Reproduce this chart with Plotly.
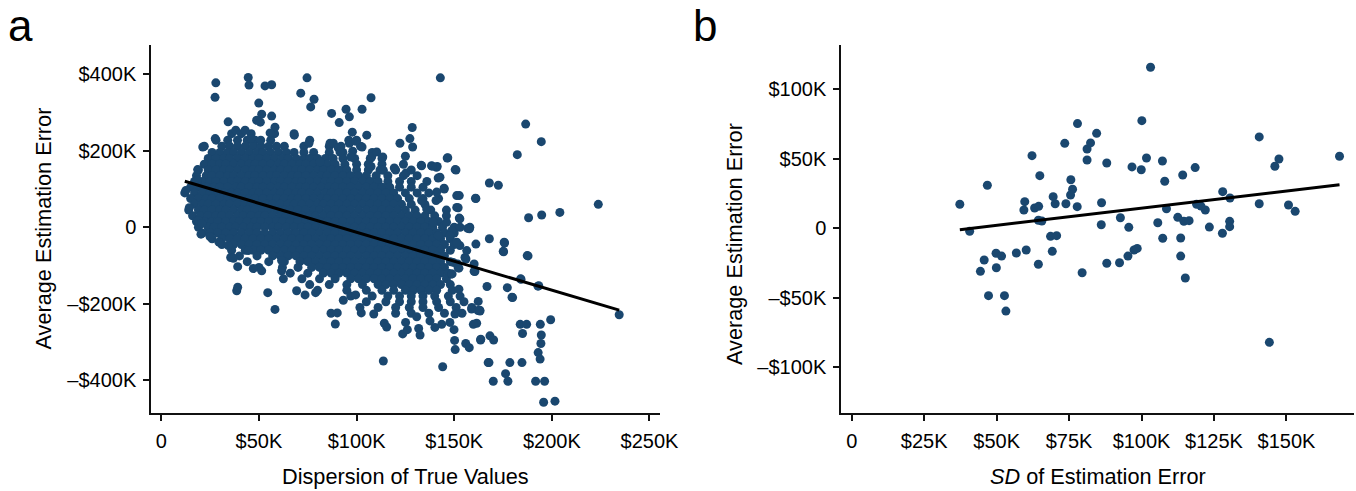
import plotly.graph_objects as go

NAVY = "#1a476f"

# ---------------- Panel a: Dispersion of True Values vs Average Estimation Error (values in $K)
# dense core, read row by row (y level in $K, x positions in $K)
core_row_y = [245, 228, 212, 196, 180, 165, 150, 135, 120, 105, 90, 75, 60, 45, 30, 15, 0,
              -15, -30, -45, -60, -75, -90, -105, -120, -135, -150, -165, -180, -195, -210, -225]
core_row_x = [
    [36, 41, 46, 58, 68],
    [28, 34, 39, 44, 48, 56, 76, 96, 100],
    [22, 31, 35, 39, 43, 47, 51, 55, 59, 63, 73, 86, 92, 102],
    [26, 30, 34, 37, 41, 45, 49, 52, 56, 60, 64, 68, 73, 78, 86, 93, 108],
    [24, 28, 32, 35, 39, 43, 47, 50, 54, 58, 62, 65, 69, 73, 76, 80, 84, 88, 93, 99, 107, 113],
    [22, 26, 30, 33, 37, 41, 45, 48, 52, 56, 60, 63, 67, 71, 74, 78, 82, 85, 89, 94, 100, 106, 113, 124],
    [19, 24, 28, 32, 35, 39, 43, 47, 50, 54, 58, 61, 65, 69, 72, 76, 80, 83, 87, 91, 95, 100, 106, 112, 120, 128],
    [18, 23, 26, 30, 34, 37, 41, 45, 48, 52, 56, 59, 63, 67, 70, 74, 78, 82, 85, 89, 93, 97, 101, 105, 110, 116, 124, 131],
    [17, 21, 25, 28, 32, 36, 39, 43, 47, 50, 54, 58, 61, 65, 69, 72, 76, 80, 84, 87, 91, 95, 99, 103, 107, 111, 116, 122, 128, 136],
    [15, 19, 23, 27, 30, 34, 38, 41, 45, 49, 52, 56, 60, 63, 67, 71, 74, 78, 82, 86, 89, 93, 97, 101, 105, 109, 113, 117, 122, 128, 134],
    [12, 17, 21, 25, 28, 32, 36, 39, 43, 47, 50, 54, 58, 61, 65, 69, 72, 76, 80, 84, 87, 91, 95, 99, 103, 107, 111, 115, 119, 125, 131, 137],
    [15, 19, 23, 26, 30, 34, 37, 41, 45, 48, 52, 56, 59, 63, 67, 70, 74, 78, 82, 85, 89, 93, 97, 101, 105, 109, 113, 117, 121, 127, 134, 142],
    [17, 21, 24, 28, 32, 35, 39, 43, 46, 50, 54, 57, 61, 65, 68, 72, 76, 80, 83, 87, 91, 95, 99, 103, 107, 111, 115, 119, 123, 128, 135],
    [14, 19, 22, 26, 30, 33, 37, 41, 44, 48, 52, 55, 59, 63, 66, 70, 74, 78, 81, 85, 89, 93, 97, 101, 105, 109, 113, 117, 121, 125, 130, 138, 146],
    [16, 20, 24, 28, 31, 35, 39, 42, 46, 50, 53, 57, 61, 64, 68, 72, 76, 79, 83, 87, 91, 95, 99, 103, 107, 111, 115, 119, 123, 127, 131, 135, 140, 146],
    [18, 22, 26, 29, 33, 37, 40, 44, 48, 51, 55, 59, 62, 66, 70, 74, 77, 81, 85, 89, 93, 97, 101, 105, 109, 113, 117, 121, 125, 129, 133, 137, 142],
    [19, 24, 27, 31, 35, 38, 42, 46, 49, 53, 57, 60, 64, 68, 72, 75, 79, 83, 87, 91, 95, 99, 103, 107, 111, 115, 119, 123, 127, 131, 135, 139, 144, 150, 153, 158],
    [21, 25, 29, 33, 37, 41, 45, 49, 53, 57, 61, 65, 69, 73, 77, 81, 85, 89, 93, 97, 101, 105, 109, 113, 117, 121, 125, 129, 133, 137, 141, 145, 150],
    [26, 31, 35, 39, 43, 47, 51, 55, 59, 63, 67, 71, 75, 79, 83, 87, 91, 95, 99, 103, 107, 111, 115, 119, 123, 127, 131, 135, 139, 143, 148],
    [31, 37, 41, 45, 49, 53, 57, 61, 65, 69, 73, 77, 81, 85, 89, 93, 97, 101, 105, 109, 113, 117, 121, 125, 129, 133, 137, 141, 145, 150],
    [36, 43, 47, 51, 55, 59, 63, 67, 71, 75, 79, 83, 87, 91, 95, 99, 103, 107, 111, 115, 119, 123, 127, 131, 135, 139, 143, 148],
    [40, 49, 57, 61, 65, 69, 73, 77, 81, 85, 89, 93, 97, 101, 105, 109, 113, 117, 121, 125, 129, 133, 137, 141, 145],
    [44, 55, 63, 71, 75, 79, 83, 87, 91, 95, 99, 103, 107, 111, 115, 119, 123, 127, 131, 135, 139, 143, 148],
    [50, 62, 70, 77, 81, 85, 89, 93, 97, 101, 105, 109, 113, 117, 121, 125, 129, 133, 137, 141, 145, 152],
    [66, 75, 83, 87, 91, 95, 99, 103, 107, 111, 115, 119, 123, 127, 131, 135, 139, 143, 147],
    [72, 81, 89, 97, 101, 105, 109, 113, 117, 121, 125, 129, 133, 137, 141, 146],
    [76, 86, 95, 103, 111, 115, 119, 123, 127, 131, 135, 139, 143, 148],
    [80, 95, 105, 113, 119, 125, 129, 133, 137, 141, 149],
    [97, 108, 116, 122, 128, 134, 140, 147, 153],
    [105, 115, 122, 128, 134, 141, 148, 155],
    [111, 120, 127, 134, 142, 151, 159],
    [120, 128, 137, 145, 154],
]

# scattered points outside the core ($K)
spread_x = [27.9, 27.5, 44.5, 44.9, 53.1, 56.5, 74.6, 71.4, 78.2, 76.5, 49.9, 51.4, 48.8, 50.7, 56.5, 34.2,
            38.1, 42.9, 45.9, 58.2, 55.7, 68.1, 75.6, 27.6, 21.2, 18.6, 50.9,
            142.9, 107.4, 102.8, 94.6, 96.3, 87.2, 91.1, 97.8, 105.2, 128.5, 127.3, 128.7, 122.2, 125.0,
            86.4, 88.1, 90.6, 91.5, 96.3, 99.7, 102.8, 98.0, 97.0, 107.7, 110.3, 113.4, 81.3, 107.4,
            119.3, 113.7, 133.3, 138.4, 141.3, 146.4, 150.5, 125.3,
            186.6, 194.6, 182.3,
            168.0, 172.6, 161.1, 188.1, 194.8, 204.1, 223.8, 161.1, 168.0, 175.6, 175.3, 187.4, 160.6,
            166.8, 177.2, 184.2, 192.9,
            141.8, 144.8, 151.3, 152.6, 151.3, 152.6, 156.9, 141.0, 140.7, 133.3, 135.9, 146.1, 148.7,
            147.8, 139.3, 141.8, 152.9, 155.5, 156.4, 151.3, 149.5, 148.7,
            162.3, 163.2, 161.5, 179.9, 234.5, 183.8, 187.1, 194.1, 199.4, 185.0, 194.6, 194.4, 163.5,
            168.3, 170.2, 193.0, 194.0, 167.4, 178.5, 184.7, 176.3, 170.0, 177.5, 191.7, 196.3, 195.8, 201.6,
            113.7, 144.1, 149.9, 150.2, 150.5, 155.9, 157.7, 86.9, 90.1, 89.1, 108.8, 114.2, 115.4, 123.6,
            126.0, 125.1, 132.5, 131.8, 130.8, 102.4, 101.7, 93.2, 99.5, 140.1, 143.6, 137.6, 147.8, 150.4,
            158.9, 159.8,
            58.2, 38.6, 54.5, 69.3, 73.6, 79.0,
            18.4, 12.5, 14.3, 18.9, 20.7, 20.3, 24.9, 29.5, 34.3, 35.5, 36.9, 39.1, 47.1, 51.4, 39.1, 44.5,
            61.6, 61.6, 62.5, 18.2,
            160.9, 150.9, 144.9, 140.9, 138.7, 142.7, 133.1, 146.7, 157.8, 152.9, 152.0, 156.0, 151.8, 152.4,
            160.2, 152.4, 148.9, 160.2, 179.6, 184.0, 193.3, 187.8, 175.1, 175.8, 162.2, 163.1, 163.6, 167.8]
spread_y = [378, 340, 392, 372, 370, 373, 391, 351, 335, 315, 325, 296, 280, 275, 291, 276,
            254, 254, 232, 262, 247, 241, 220, 232, 210, 151, 228,
            391, 339, 309, 309, 289, 298, 274, 249, 241, 261, 232, 210, 220, 186,
            220, 220, 208, 197, 220, 225, 210, 199, 184, 184, 197, 184, 171, 159,
            155, 149, 161, 161, 159, 181, 151, 142,
            270, 224, 190,
            116, 110, 75, 25, 32, 39, 60, -44, -30, -39, -64, -74, -116,
            -155, -158, -136, -154,
            129, 102, 83, 83, 52, 24, -3, 92, 70, 70, 48, 13, -9,
            -22, 13, -22, -48, -79, -61, -39, -92, -122,
            -194, -219, -251, -184, -229, -254, -254, -254, -242, -278, -282, -304, -295,
            -284, -295, -328, -345, -354, -354, -354, -383, -403, -403, -403, -403, -458, -455,
            -350, -365, -268, -296, -320, -304, -315, -225, -224, -253, -227, -251, -261, -279,
            -268, -249, -282, -265, -234, -224, -210, -191, -177, -262, -254, -245, -249, -227,
            -214, -254,
            -215, -166, -171, -166, -177, -171,
            123, 96, 51, 18, 10, -18, -24, -39, -48, -79, -81, -103, -108, -114, -157, -61,
            -87, -114, -135, 122,
            76, 150, 100, 157, 160, 131, 162, 182, -4, 22, 51, -83, -96, -107,
            -96, -162, -122, -115, -183, -135, -153, -75, -63, -41, -218, -217, -293, -354]

fit_a_slope = -1.515      # $K per $K
fit_a_intercept = 138.5   # $K

# ---------------- Panel b: SD of Estimation Error vs Average Estimation Error ($K)
b_x = [37.3, 40.7, 46.8, 45.7, 44.4, 49.8, 51.7, 49.9, 47.2, 52.7, 53.2, 56.8, 60.2, 62.2, 59.7, 59.4,
       63.1, 64.5, 64.9, 64.4, 65.6, 64.4, 68.6, 70.7, 69.2, 69.5, 70.2, 73.5, 73.9, 75.6, 76.2, 75.5,
       77.8, 77.9, 79.5, 81.2, 82.4, 81.2, 84.5, 86.2, 86.1, 88.0, 88.0, 92.4, 92.7, 95.6, 95.3, 97.4,
       96.7, 99.9, 100.1, 103.1, 101.7, 105.6, 107.2, 108.0, 107.3, 108.6, 112.5, 113.5, 113.5, 115.1,
       114.2, 118.5, 114.6, 116.4, 119.0, 122.0, 123.4, 128.0, 127.9, 130.5, 130.4, 130.4, 140.6, 140.6,
       144.1, 146.0, 147.4, 150.7, 153.0, 168.3, 120.5, 98.5]
b_y = [17.3, -2.2, 31.0, -22.8, -31.0, -18.0, -20.0, -28.4, -48.5, -48.5, -59.6, -17.8, -15.6, 52.3,
       19.2, 13.2, 14.6, 15.8, 37.9, 5.8, 5.3, -25.9, -5.8, -5.3, -16.6, 22.8, 17.7, 61.2, 17.7, 35.0,
       28.1, 24.0, 15.6, 75.4, -32.0, 57.1, 61.5, 49.2, 68.4, 18.4, 2.6, 47.0, -25.2, -24.8, 7.6, 0.7,
       -20.0, -15.6, 44.2, 42.2, 77.5, 116.0, 50.6, 4.0, 48.5, 33.9, -7.2, 14.1, 7.9, -7.0, -20.0,
       -35.8, 38.4, 43.7, 5.0, 5.5, 17.3, 13.2, 0.9, 26.4, -3.6, 21.8, 5.0, 1.2, 65.8, 17.7, -82.1,
       44.7, 49.9, 16.8, 12.2, 51.9, 16.0, -14.5]

fit_b_slope = 0.247
fit_b_intercept = -10.2

# tick labels
a_xticks = [0, 50, 100, 150, 200, 250]
a_xtext = ["0", "$50K", "$100K", "$150K", "$200K", "$250K"]
a_yticks = [-400, -200, 0, 200, 400]
a_ytext = ["\u2013$400K", "\u2013$200K", "0", "$200K", "$400K"]
b_xticks = [0, 25, 50, 75, 100, 125, 150]
b_xtext = ["0", "$25K", "$50K", "$75K", "$100K", "$125K", "$150K"]
b_yticks = [-100, -50, 0, 50, 100]
b_ytext = ["\u2013$100K", "\u2013$50K", "0", "$50K", "$100K"]

# ---------------- build
a_x, a_y = [], []
for yv, xs in zip(core_row_y, core_row_x):
    for xv in xs:
        a_x.append(xv)
        a_y.append(yv)
a_x += spread_x
a_y += spread_y

fig = go.Figure()
MS = 9
fig.add_trace(go.Scatter(x=a_x, y=a_y, mode="markers", xaxis="x", yaxis="y",
                         marker=dict(color=NAVY, size=MS, line=dict(width=0)), showlegend=False))
ax0, ax1 = min(a_x), max(a_x)
fig.add_trace(go.Scatter(x=[ax0, ax1], y=[fit_a_intercept + fit_a_slope * ax0, fit_a_intercept + fit_a_slope * ax1],
                         mode="lines", xaxis="x", yaxis="y", line=dict(color="black", width=3), showlegend=False))
fig.add_trace(go.Scatter(x=b_x, y=b_y, mode="markers", xaxis="x2", yaxis="y2",
                         marker=dict(color=NAVY, size=MS, line=dict(width=0)), showlegend=False))
bx0, bx1 = min(b_x), max(b_x)
fig.add_trace(go.Scatter(x=[bx0, bx1], y=[fit_b_intercept + fit_b_slope * bx0, fit_b_intercept + fit_b_slope * bx1],
                         mode="lines", xaxis="x2", yaxis="y2", line=dict(color="black", width=3), showlegend=False))

W, H = 1356, 491
FONT = "Liberation Sans, Arial, sans-serif"
TICKFONT = dict(family=FONT, size=20, color="black")
common = dict(showgrid=False, zeroline=False, showline=True, linecolor="#111", linewidth=1.5,
              ticks="outside", ticklen=6, tickwidth=1.5, tickcolor="#111", tickfont=TICKFONT,
              tickmode="array", automargin=False)
ydom = [1 - 413 / H, 1 - 45 / H]
fig.update_layout(
    width=W, height=H, autosize=False, margin=dict(l=0, r=0, t=0, b=0, pad=0),
    paper_bgcolor="white", plot_bgcolor="white",
    xaxis=dict(domain=[151 / W, 660 / W], range=[-5.3, 255.4], anchor="y",
               tickvals=a_xticks, ticktext=a_xtext, ticklabelstandoff=3, **common),
    yaxis=dict(domain=ydom, range=[-486, 477], anchor="x",
               tickvals=a_yticks, ticktext=a_ytext, ticklabelstandoff=3, **common),
    xaxis2=dict(domain=[841 / W, 1354 / W], range=[-3.7, 173.3], anchor="y2",
                tickvals=b_xticks, ticktext=b_xtext, ticklabelstandoff=3, **common),
    yaxis2=dict(domain=ydom, range=[-133, 132], anchor="x2",
                tickvals=b_yticks, ticktext=b_ytext, ticklabelstandoff=3, **common),
    font=dict(family=FONT, color="black"),
)

def ann(text, x, y, size, angle=0, xanchor="center", yanchor="middle"):
    fig.add_annotation(text=text, x=x / W, y=1 - y / H, xref="paper", yref="paper",
                       showarrow=False, textangle=angle, xanchor=xanchor, yanchor=yanchor,
                       font=dict(family=FONT, size=size, color="black"))

ann("Dispersion of True Values", 405.5, 476, 21.7)
ann("Average Estimation Error", 43, 228.5, 21.7, angle=-90)
ann("<i>SD</i> of Estimation Error", 1098, 476, 21.7)
ann("Average Estimation Error", 734, 244, 21.7, angle=-90)
ann("a", 20, 26, 44)
ann("b", 705, 26, 44)

fig.write_html("out.html", config={"displayModeBar": False, "responsive": False},
               post_script="document.body.style.margin='0px';document.body.style.overflow='hidden';")
